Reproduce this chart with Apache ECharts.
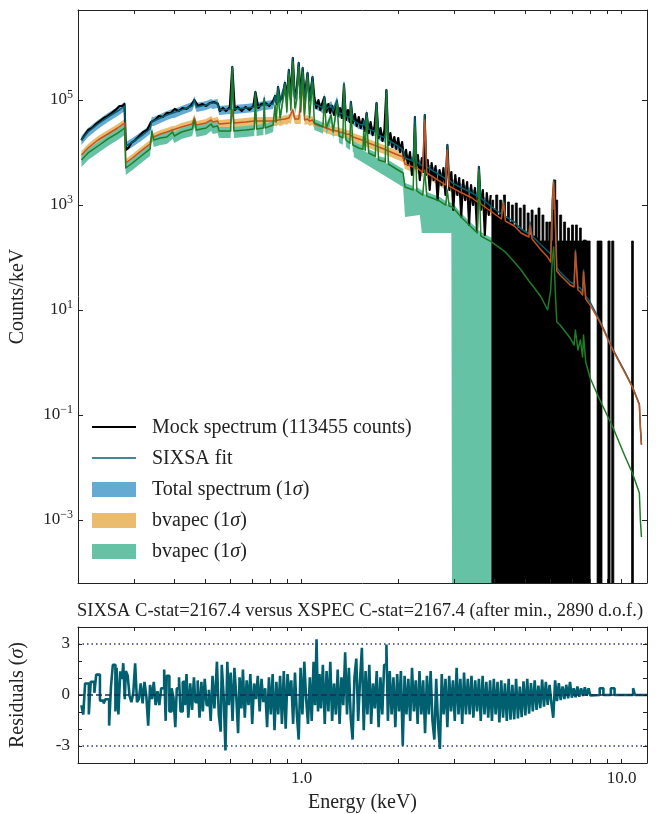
<!DOCTYPE html>
<html><head><meta charset="utf-8">
<script src="https://cdn.jsdelivr.net/npm/echarts/dist/echarts.min.js"></script>
<style>html,body{margin:0;padding:0;background:#fff}#chart{width:660px;height:814px}</style>
</head><body><div id="chart"></div>
<script>
// ---------- model curves (keV, counts/keV) ----------
const energy = [0.205,0.215,0.231,0.248,0.266,0.280,0.282,0.296,0.318,0.336,0.340,0.345,0.362,0.379,0.395,0.400,0.421,0.455,0.462,0.469,0.503,0.521,0.528,0.546,0.552,0.600,0.607,0.614,0.668,0.711,0.717,0.723,0.759,0.764,0.769,0.814,0.826,0.832,0.844,0.856,0.887,0.899,0.912,0.925,0.938,0.952,0.965,0.979,0.993,1.007,1.021,1.043,1.058,1.081,1.096,1.136,1.165,1.177,1.194,1.237,1.254,1.290,1.309,1.345,1.356,1.375,1.415,1.425,1.445,1.508,1.555,1.563,1.580,1.596,1.619,1.700,1.713,1.738,1.825,1.840,1.866,2.000,2.074,2.104,2.23,2.26,2.29,2.39,2.425,2.46,2.70,2.82,2.85,2.89,2.96,3.17,3.41,3.54,3.58,3.63,3.93,4.21,4.27,4.33,4.62,4.85,5.13,5.17,5.25,5.60,5.87,6.00,6.07,6.13,6.20,6.27,6.42,6.90,7.10,7.17,7.30,7.43,7.55,7.60,7.72,7.97,8.55,9.38,10.2,10.8,11.36,11.44,11.53];
const fitTotal = [1.73e4,2.46e4,3.49e4,4.74e4,6.17e4,7.69e4,1.33e4,1.58e4,2.15e4,2.80e4,3.98e4,3.98e4,4.54e4,5.18e4,5.65e4,5.65e4,6.45e4,7.69e4,1.0e5,7.36e4,8.03e4,8.77e4,8.39e4,8.77e4,6.45e4,6.74e4,4.25e5,6.74e4,7.04e4,7.36e4,1.42e5,7.36e4,8.03e4,1.09e5,8.03e4,8.39e4,1.19e5,8.77e4,1.77e5,9.16e4,2.11e5,1.0e5,3.73e5,1.0e5,6.31e5,1.04e5,1.55e5,5.07e5,1.04e5,4.07e5,1.0e5,3.27e5,9.57e4,2.74e5,8.39e4,7.69e4,6.9e4,1.14e5,6.74e4,8.03e4,6.17e4,1.0e5,5.65e4,5.4e4,2.11e5,4.96e4,4.6e4,9.16e4,4.16e4,3.49e4,3.3e4,3.98e4,3.2e4,5.65e4,2.80e4,2.5e4,8.77e4,2.15e4,1.9e4,1.55e5,1.73e4,1.33e4,1.12e4,7.85e3,6.88e3,4.74e4,6.59e3,5.53e3,5.18e4,5.3e3,3.73e3,3.13e3,1.39e4,2.99e3,2.62e3,2.11e3,1.69e3,1.48e3,5.3e3,1.36e3,916,674,1.24e3,617,474,349,281,474,257,173,133,117,1.24e3,2.99e3,645,63.1,53,34.1,31.3,139,27.4,26.2,22,57.8,18.5,14.2,6.2,1.8,0.69,0.35,0.16,0.059,0.028];
const bvapecHot = [8.96e3,1.22e4,1.73e4,2.25e4,2.93e4,3.65e4,6.31e3,7.85e3,1.12e4,1.45e4,1.97e4,1.97e4,2.25e4,2.46e4,2.68e4,2.68e4,3.06e4,3.49e4,4.54e4,3.34e4,3.65e4,4.16e4,3.81e4,3.98e4,3.49e4,3.65e4,6.45e4,3.65e4,3.81e4,3.98e4,4.54e4,3.98e4,3.98e4,4.16e4,3.98e4,3.98e4,3.98e4,3.98e4,4.16e4,3.98e4,4.35e4,4.16e4,4.54e4,4.35e4,6.45e4,4.35e4,4.35e4,4.35e4,4.35e4,1.93e5,4.16e4,4.35e4,3.98e4,4.16e4,3.49e4,3.2e4,3.1e4,3.06e4,2.93e4,2.68e4,2.57e4,2.57e4,2.46e4,2.4e4,2.35e4,2.25e4,2.2e4,2.15e4,1.97e4,1.81e4,1.7e4,1.66e4,1.62e4,1.58e4,1.52e4,1.35e4,1.33e4,1.27e4,1.14e4,1.12e4,1.07e4,8.96e3,8.2e3,6.04e3,5.3e3,5.78e3,5.07e3,4.25e3,4.16e4,4.07e3,2.86e3,2.40e3,1.12e4,2.3e3,2.11e3,1.69e3,1.36e3,1.14e3,1.3e3,1.045e3,736,541,1.14e3,495,398,293,246,414,225,139,102,82,1.0e3,2.74e3,518,55.3,46.4,29.9,27.4,127,24,22,19.3,53,16.2,12.4,5.91,1.73,0.659,0.341,0.155,0.059,0.0268];
const bvapecCool = [7.2e3,9.8e3,1.33e4,1.81e4,2.35e4,2.93e4,5.07e3,6.31e3,8.96e3,1.17e4,2.57e4,1.73e4,1.89e4,1.97e4,2.46e4,2.06e4,2.46e4,2.80e4,4.16e4,2.68e4,2.93e4,3.49e4,3.06e4,3.20e4,2.57e4,2.57e4,4.07e5,2.57e4,2.68e4,2.80e4,1.30e5,2.80e4,2.93e4,1.0e5,2.93e4,3.34e4,8.03e4,3.81e4,1.42e5,4.54e4,1.85e5,5.91e4,3.13e5,6.45e4,5.3e5,7.04e4,1.0e5,4.25e5,5.91e4,3.41e5,5.18e4,2.74e5,4.54e4,2.2e5,3.65e4,3.34e4,3.1e4,1.0e5,2.93e4,5.18e4,2.46e4,8.39e4,2.06e4,1.9e4,1.85e5,1.73e4,1.5e4,7.69e4,1.39e4,1.22e4,1.15e4,2.68e4,1.1e4,4.96e4,9.8e3,8.5e3,7.69e4,7.2e3,6.6e3,1.36e5,6.04e3,4.64e3,4.07e3,2.20e3,1.93e3,3.06e4,1.85e3,1.55e3,4.64e3,1.48e3,1.19e3,1.0e3,1.93e3,957,916,565,365,293,4.64e3,257,197,145,139,127,82,57.8,35.6,34.1,29.9,17.7,10,24,89.6,158,24,5.91,5.18,2.93,2.15,4.16,1.73,2.68,1.27,3.34,1.02,0.507,0.193,0.059,0.0173,0.00785,0.00327,0.001,4.74e-4];

// ---------- extra lower extent of the second bvapec 1-sigma band ----------
const bandExtE = [1.455,1.738,2.074,2.104,2.34,2.374,2.936,2.96,3.93];
const bandExtUpper = [1.39e4,7.52e3,4.25e3,2.3e3,1.93e3,1.69e3,957,916,197];
const bandExtLower = [8.2e3,4.25e3,2.2e3,591,645,293,293,1e-9,1e-9];

// ---------- mock spectrum ----------
const mockLowE = [0.2048,0.2089,0.2150,0.2212,0.2275,0.2340,0.2407,0.2476,0.2547,0.2621,0.2696,0.2754,0.2795,0.2824,0.2874,0.2936,0.3020,0.3107,0.3196,0.3288,0.3382,0.3479,0.3579,0.3683,0.3789,0.3898,0.4010,0.4125,0.4243,0.4365,0.4491,0.4620,0.4752,0.4889,0.5030,0.5174,0.5323,0.5476,0.5554,0.5673,0.5797,0.5963,0.6070,0.6179,0.6310,0.6492,0.6678,0.6870,0.7067,0.7168,0.7323,0.7478,0.7694,0.7915,0.8142,0.8258,0.8376,0.8436,0.8556,0.8738,0.8866,0.8992,0.9120,0.9250,0.9382,0.9517,0.9652,0.9790,0.9929,1.0071,1.0215,1.0435,1.0583,1.0810,
1.096,1.112,1.128,1.144,1.160,1.177,1.194,1.211,1.228,1.246,1.263,1.281,1.300,1.318,1.337,1.356,1.375,1.395,1.415,1.425,1.445,1.466,1.487,1.508,1.530,1.552,1.574,1.596,1.619,1.642,1.666,1.690,1.714,1.738,1.763,1.788,1.814,1.840,1.866,1.893,1.920,1.947,1.975,2.003,2.031,2.060,2.089,2.119,2.149,2.180,2.211,2.243,2.259,2.275,2.307,2.340,2.374,2.408,2.425,2.442,2.477,2.512,2.548,2.584,2.621,2.659,2.697,2.735,2.774,2.814,2.854,2.894,2.936,2.978,3.020,3.064,3.107,3.152,3.197,3.243,3.289,3.336,3.383,3.431,3.480,3.530,3.580,3.631,3.683,3.736,3.789,3.843,3.898];
const mockLow = [1.73e4,2.06e4,2.68e4,2.93e4,3.49e4,3.98e4,4.54e4,4.96e4,5.65e4,6.45e4,7.69e4,7.69e4,8.39e4,1.12e4,1.22e4,1.52e4,1.73e4,2.06e4,2.46e4,2.68e4,3.81e4,4.16e4,4.96e4,4.74e4,5.65e4,5.65e4,6.74e4,6.17e4,7.04e4,6.74e4,7.69e4,1.0e5,7.69e4,8.39e4,7.69e4,8.77e4,9.16e4,8.39e4,6.17e4,7.04e4,6.17e4,7.36e4,4.25e5,6.45e4,7.36e4,6.17e4,7.36e4,6.45e4,7.69e4,1.42e5,7.04e4,8.39e4,8.77e4,7.69e4,9.57e4,1.19e5,8.39e4,1.77e5,1.0e5,1.14e5,2.11e5,1.09e5,3.73e5,1.04e5,6.31e5,1.14e5,1.55e5,5.07e5,1.09e5,4.07e5,1.09e5,3.27e5,1.0e5,2.74e5,
1.09e5,7.04e4,1.0e5,6.45e4,8.77e4,1.14e5,5.91e4,8.39e4,5.65e4,7.69e4,5.18e4,8.03e4,4.96e4,7.04e4,4.54e4,1.93e5,4.16e4,6.45e4,3.81e4,9.16e4,3.65e4,5.41e4,3.20e4,4.74e4,2.93e4,4.35e4,2.57e4,5.65e4,2.35e4,3.81e4,2.15e4,3.20e4,8.77e4,1.89e4,2.93e4,1.66e4,2.68e4,1.55e5,1.39e4,2.35e4,1.27e4,1.97e4,1.17e4,1.89e4,1.02e4,1.58e4,7.2e3,1.12e4,5.78e3,1.02e4,3.73e3,8.58e3,4.74e4,5.07e3,8.96e3,2.99e3,7.85e3,4.25e3,5.18e4,3.73e3,7.2e3,1.93e3,6.31e3,2.99e3,5.53e3,1.24e3,4.64e3,2.40e3,5.07e3,1.55e3,1.39e4,1.93e3,4.25e3,803,3.73e3,1.55e3,3.27e3,591,2.99e3,1.24e3,2.74e3,416,2.40e3,1e3,2.11e3,334,5.3e3,803,1.93e3,268,1.69e3,645,1.55e3];
const mockHighE = [3.93,3.98,4.04,4.10,4.155,4.213,4.273,4.334,4.396,4.459,4.522,4.586,4.652,4.718,4.786,4.855,4.924,4.994,5.065,5.138,5.211,5.286,5.361,5.438,5.477,5.555,5.635,5.715,5.797,5.88,5.922,6.006,6.092,6.135,6.223,6.31,6.40,6.494,6.586,6.68,6.776,6.873,6.971,7.07,7.17,7.27,7.38,7.48,7.59,7.75,7.91,7.97,8.38,8.68,9.06,9.20,9.31,9.45,10.74,10.88,12];
const mockHigh = [1.24e3,803,1.55e3,645,1.24e3,736,1.55e3,565,1.14e3,474,1e3,416,1.09e3,365,877,334,1e3,306,705,268,803,257,645,235,877,206,645,206,474,206,474,206,803,2.99e3,1.24e3,206,645,206,474,206,365,206,416,206,416,206,365,206,215,206,206,1e-9,206,1e-9,206,1e-9,206,1e-9,206,1e-9,1e-9];

// ---------- residuals (sigma) ----------
const residE = [0.2049,0.2077,0.2105,0.2162,0.2191,0.2250,0.2280,0.2342,0.2405,
0.2436,0.2502,0.2536,0.2570,0.2618,0.2639,0.2675,0.2711,0.2747,0.2770,0.2800,0.2822,0.2860,0.2898,0.2937,0.2977,0.3017,0.3058,0.3099,0.3140,
0.3184,0.3227,0.3270,0.3314,0.3359,0.3404,0.3450,0.3496,0.3543,0.3591,0.3639,0.3718,0.3758,0.3788,0.3860,0.3922,0.3975,0.4028,0.4072,0.4137,
0.4182,0.4250,0.4319,0.4366,0.4424,0.4484,0.4545,0.4606,0.4655,0.4731,0.4795,0.4860,0.4911,0.4978,0.5045,0.5127,0.5196,0.5266,0.5337,0.5394,
0.5435,0.5508,0.5582,0.5627,0.5703,0.5779,0.5857,0.5920,0.5999,0.6080,0.6162,0.6245,0.6329,0.6397,0.6483,0.6553,0.6641,0.6731,0.6821,0.6913,0.7006,
0.7100,0.7196,0.7292,0.7391,0.7490,0.7591,0.7693,0.7797,0.7902,0.8008,0.8116,0.8226,0.8336,0.8449,0.8563,0.8676,0.8794,0.8913,0.9033,0.9155,
0.9279,0.9404,0.9530,0.9659,0.9789,0.9921,1.0054,1.0190,1.0327,1.0466,1.0607,1.0749,1.0894,1.1012,1.1130,1.1250,1.1371,1.1493,1.1648,1.1805,1.1964,
1.2123,1.2287,1.2452,1.2620,1.2790,1.2962,1.3136,1.3313,1.3492,1.3674,1.3858,1.4045,1.4234,1.4425,1.4620,1.4817,1.5016,1.5218,1.5423,1.5631,
1.5838,1.6051,1.6268,1.6487,1.6709,1.6934,1.7162,1.7393,1.7627,1.7864,1.8105,1.840,1.8597,1.8847,1.9101,1.9358,1.9619,1.9883,2.0151,2.0422,
2.0695,2.0974,2.1256,2.1543,2.1833,2.2127,2.2424,2.2726,2.3032,2.3342,2.3657,2.3975,2.4298,2.4625,2.4957,2.5293,2.5633,2.5978,2.6328,2.6682,
2.704,2.740,2.777,2.815,2.853,2.891,2.930,2.970,3.009,3.050,3.091,3.133,3.175,3.217,3.261,3.305,3.349,3.394,3.440,3.486,
3.533,3.580,3.628,3.677,3.727,3.777,3.828,3.880,3.932,3.985,4.038,4.093,4.148,4.204,4.260,4.318,4.376,4.435,
4.494,4.555,4.616,4.678,4.741,4.805,4.870,4.935,5.002,5.069,5.137,5.207,5.277,5.348,5.420,5.493,5.567,5.642,5.718,5.795,5.873,5.952,6.031,6.112,6.195,6.278,6.363,6.448,6.535,6.623,6.712,6.803,6.895,6.987,7.081,7.177,7.273,7.371,7.470,7.571,7.673,7.776,7.880,7.98,
8.094,8.538,8.769,9.251,9.501,10.86,11.0,12];
const resid = [-0.6,-1.15,0.68,-1.15,0.77,0.13,1.2,-0.33,-0.5,
-0.25,-1.8,0.5,1.78,-0.97,1.6,-1.15,1.4,0.95,1.87,-0.24,1.41,1.13,-0.05,-0.42,0.13,1.87,-0.42,-0.24,0.68,
-0.5,0.77,-0.05,-1.8,0.59,-0.24,0.77,-0.6,0.22,-0.6,0.4,1.5,-1.52,1.13,-0.97,0.4,-0.15,-1.89,0.4,1.04,
-0.97,0.77,-0.6,1.23,-1.34,0.68,-0.88,1.04,-0.42,0.86,-1.34,0.77,-0.97,0.95,-0.6,0.31,-1.52,1.13,-0.79,0.68,
1.96,-1.15,-2.16,1.78,-0.05,-3.26,1.96,-0.6,1.32,-1.52,1.6,-0.05,-2.25,1.04,-0.79,1.5,-1.34,0.86,-0.6,1.23,-1.7,
0.68,-0.24,1.13,-0.97,0.95,-0.42,0.4,-1.89,1.04,-1.15,1.23,-2.07,0.77,-1.15,1.13,-1.7,1.41,-1.98,1.23,-0.05,
0.86,-1.7,1.32,-1.15,-2.62,1.6,-1.15,1.96,-0.24,-1.7,1.04,-1.52,1.96,-0.6,3.28,-0.97,1.23,-0.79,1.78,-1.7,1.41,
-0.97,1.96,-1.52,0.68,-1.15,1.5,-1.7,1.04,-0.6,2.51,-1.15,1.6,-1.34,-2.62,1.04,2.14,-1.52,0.86,2.78,-2.07,
1.41,-1.15,1.78,-1.7,0.68,-0.79,1.41,-1.89,1.04,-1.15,1.78,2.97,-1.52,1.41,-1.15,1.04,-1.89,1.23,-0.97,1.41,
-2.99,1.13,-1.15,0.95,-1.52,1.6,-0.97,0.86,-1.7,1.41,-1.15,0.86,-2.25,1.13,-1.15,1.41,-1.52,-2.62,0.95,-1.7,
-3.17,1.23,-1.15,0.95,-1.89,1.13,-0.97,0.86,-1.52,1.6,-1.15,0.95,-1.7,1.32,-1.15,0.95,-1.15,1.13,-1.34,0.86,
-0.97,0.95,-1.52,1.13,-1.15,0.77,-1.34,0.86,-1.52,0.95,-1.15,0.77,-1.61,0.86,-1.34,0.68,-1.52,0.95,
-1.45,0.6,-1.43,0.95,-1.38,0.5,-1.3,0.8,-1.2,0.95,-1.1,0.7,-0.97,0.86,-0.88,0.55,-0.78,0.9,-0.68,0.77,-0.58,0.6,-0.48,-1.34,0.86,-0.36,0.7,-0.3,0.5,-0.24,0.6,-0.2,0.77,-0.16,0.4,-0.13,0.5,-0.1,0.4,-0.06,0.45,-0.04,0.4,-0.02,
0,0.4,0,0.4,0,0.4,0,0];

// ---------- axes ticks ----------
const xTickValues = [0.2,0.3,0.4,0.5,0.6,0.7,0.8,0.9,1,2,3,4,5,6,7,8,9,10];
const xLabelValues = [1,10];
const yTickValues = [1e-3,1e-1,1e1,1e3,1e5];
const residTickLabels = [-3,0,3];

const FONT = 'Liberation Serif';
const INK = '#222';
const C = {
  mock:'#000000', fit:'#00606f', hot:'#c8501e', cool:'#1e7d24',
  fitBand:'#64aad2', hotBand:'#ebbc6e', coolBand:'#66c2a5', ref:'#2b3a80'
};
const pairs = (xs, ys) => xs.map((x, i) => [x, ys[i]]);

const chart = echarts.init(document.getElementById('chart'), null, {renderer:'canvas'});

function xAxisDef(gridIndex, position, labels, name) {
  return {
    type:'log', logBase:10, gridIndex, position, min:0.2, max:12, z:10,
    axisLine:{show:true, onZero:false, lineStyle:{color:INK, width:1}},
    axisTick:{show:true, inside:true, length:4, customValues:xTickValues, lineStyle:{color:INK, width:1}},
    minorTick:{show:false}, splitLine:{show:false},
    axisLabel:{show:labels, customValues:xLabelValues, formatter:v => Number(v).toFixed(1), margin:7,
      fontFamily:FONT, fontSize:17, color:INK},
    name: name || '', nameLocation:'middle', nameGap:30,
    nameTextStyle:{fontFamily:FONT, fontSize:20, color:INK}
  };
}
function logYAxisDef(position, labels) {
  return {
    type:'log', logBase:10, gridIndex:0, position, min:6.31e-5, max:5.18e6, z:10,
    axisLine:{show:true, onZero:false, lineStyle:{color:INK, width:1}},
    axisTick:{show:true, inside:true, length:5, customValues:yTickValues, lineStyle:{color:INK}},
    minorTick:{show:false}, splitLine:{show:false},
    axisLabel:{show:labels, customValues:yTickValues, margin:5,
      formatter:v => { const e = Math.round(Math.log10(v)); return '{b|10}{s|' + (e < 0 ? '\u2212' + (-e) : e) + '}'; },
      rich:{b:{fontFamily:FONT, fontSize:17, color:INK}, s:{fontFamily:FONT, fontSize:12, color:INK, padding:[0,0,10,0]}}},
    name: labels ? 'Counts/keV' : '', nameLocation:'middle', nameGap:50, nameRotate:90,
    nameTextStyle:{fontFamily:FONT, fontSize:20, color:INK}
  };
}
function residYAxisDef(position, labels) {
  return {
    type:'value', gridIndex:1, position, min:-4, max:4, interval:1, z:10,
    axisLine:{show:true, onZero:false, lineStyle:{color:INK, width:1}},
    axisTick:{show:true, inside:true, length:4, lineStyle:{color:INK}},
    splitLine:{show:false},
    axisLabel:{show:labels, margin:8, fontFamily:FONT, fontSize:17, color:INK,
      formatter:v => residTickLabels.indexOf(v) >= 0 ? String(v) : ''},
    name: labels ? 'Residuals ({i|\u03c3})' : '', nameLocation:'middle', nameGap:50, nameRotate:90,
    nameTextStyle:{fontFamily:FONT, fontSize:20, color:INK, rich:{i:{fontFamily:FONT, fontSize:20, fontStyle:'italic', color:INK}}}
  };
}

// 1-sigma band drawn as a ribbon of fixed pixel half-heights around the model curve
function ribbon(name, ys, color, up, down, maxE) {
  const data = pairs(energy, ys).filter(p => p[0] <= maxE);
  return {
    name, type:'custom', xAxisIndex:0, yAxisIndex:0, clip:true, z:1, silent:true, data,
    renderItem:function(params, api){
      if (params.dataIndex !== 0) return null;
      const top = [], bot = [];
      data.forEach(p => { const c = api.coord(p); top.push([c[0], c[1] - up]); bot.push([c[0], c[1] + down]); });
      return {type:'polygon', shape:{points:top.concat(bot.reverse())}, style:{fill:color}};
    }
  };
}
const thin = (name, ys, color) => ({
  name, type:'line', xAxisIndex:0, yAxisIndex:0, data:pairs(energy, ys), showSymbol:false, symbol:'none',
  lineStyle:{color, width:1.5, join:'round'}, z:4, silent:true, animation:false
});

const legendRows = [
  {kind:'line', color:C.mock, w:2.2, text:'Mock spectrum (113455 counts)'},
  {kind:'line', color:C.fit, w:1.5, text:'SIXSA fit'},
  {kind:'rect', color:C.fitBand, text:'Total spectrum (1{i|\u03c3})'},
  {kind:'rect', color:C.hotBand, text:'bvapec (1{i|\u03c3})'},
  {kind:'rect', color:C.coolBand, text:'bvapec (1{i|\u03c3})'}
];
const graphics = [];
legendRows.forEach((r, k) => {
  const cy = 427 + k * 31;
  if (r.kind === 'line') graphics.push({type:'line', shape:{x1:92, y1:cy, x2:136, y2:cy}, style:{stroke:r.color, lineWidth:r.w}, z:20});
  else graphics.push({type:'rect', shape:{x:92, y:cy - 7, width:44, height:15}, style:{fill:r.color}, z:20});
  graphics.push({type:'text', x:152, y:cy + 1, z:20, style:{text:r.text, font:'20px "Liberation Serif"', fill:INK,
    textVerticalAlign:'middle', verticalAlign:'middle',
    rich:{i:{fontFamily:FONT, fontSize:20, fontStyle:'italic', fill:INK, color:INK}}}});
});
graphics.push({type:'text', x:360, y:611, z:20, style:{
  text:'SIXSA C-stat=2167.4 versus XSPEC C-stat=2167.4 (after min., 2890 d.o.f.)',
  font:'18.5px "Liberation Serif"', fill:INK, textAlign:'center', align:'center', textVerticalAlign:'middle', verticalAlign:'middle'}});

const option = {
  animation:false,
  backgroundColor:'#ffffff',
  grid:[{left:73, top:10, width:574, height:573}, {left:73, top:627, width:574, height:144}],
  xAxis:[xAxisDef(0,'bottom',false), xAxisDef(0,'top',false), xAxisDef(1,'bottom',true,'Energy (keV)'), xAxisDef(1,'top',false)],
  yAxis:[logYAxisDef('left',true), logYAxisDef('right',false), residYAxisDef('left',true), residYAxisDef('right',false)],
  graphic:graphics,
  series:[
    ribbon('fitBand', fitTotal, C.fitBand, 4, 5, 4.0),
    ribbon('hotBand', bvapecHot, C.hotBand, 4, 5, 4.0),
    ribbon('coolBand', bvapecCool, C.coolBand, 4, 7, 4.0),
    {
      name:'coolBandExt', type:'custom', xAxisIndex:0, yAxisIndex:0, clip:true, z:1, silent:true,
      data:pairs(bandExtE, bandExtUpper),
      renderItem:function(params, api){
        if (params.dataIndex !== 0) return null;
        const pts = [];
        for (let i = 0; i < bandExtE.length; i++) pts.push(api.coord([bandExtE[i], bandExtUpper[i]]));
        for (let i = bandExtE.length - 1; i >= 0; i--) pts.push(api.coord([bandExtE[i], bandExtLower[i]]));
        return {type:'polygon', shape:{points:pts}, style:{fill:C.coolBand}};
      }
    },
    {name:'mockLow', type:'line', xAxisIndex:0, yAxisIndex:0, data:pairs(mockLowE, mockLow), showSymbol:false, symbol:'none',
      lineStyle:{color:C.mock, width:2.2, join:'round'}, z:2, silent:true},
    {
      name:'mockHigh', type:'custom', xAxisIndex:0, yAxisIndex:0, clip:true, z:2, silent:true,
      data:pairs(mockHighE, mockHigh),
      renderItem:function(params, api){
        if (params.dataIndex !== 0) return null;
        const n = mockHighE.length;
        const pts = [api.coord([mockHighE[0], 1e-9])];
        for (let i = 0; i < n; i++) {
          pts.push(api.coord([mockHighE[i], mockHigh[i]]));
          if (i + 1 < n) pts.push(api.coord([mockHighE[i + 1], mockHigh[i]]));
        }
        pts.push(api.coord([mockHighE[n - 1], 1e-9]));
        return {type:'polygon', shape:{points:pts}, style:{fill:C.mock, stroke:C.mock, lineWidth:0.8}};
      }
    },
    thin('fit', fitTotal, C.fit),
    thin('hot', bvapecHot, C.hot),
    thin('cool', bvapecCool, C.cool),
    {name:'resid', type:'line', xAxisIndex:2, yAxisIndex:2, data:pairs(residE, resid), showSymbol:false, symbol:'none', step:'end',
      lineStyle:{color:C.fit, width:2.6}, z:3, silent:true,
      markLine:{silent:true, symbol:['none','none'], label:{show:false}, animation:false,
        data:[
          {yAxis:3, lineStyle:{type:[1.5,3], color:C.ref, width:1.5}},
          {yAxis:-3, lineStyle:{type:[1.5,3], color:C.ref, width:1.5}},
          {yAxis:0, lineStyle:{type:[6,3], color:'#1f2a5c', width:1.5}}
        ]}}
  ]
};
chart.setOption(option);
</script>
</body></html>
